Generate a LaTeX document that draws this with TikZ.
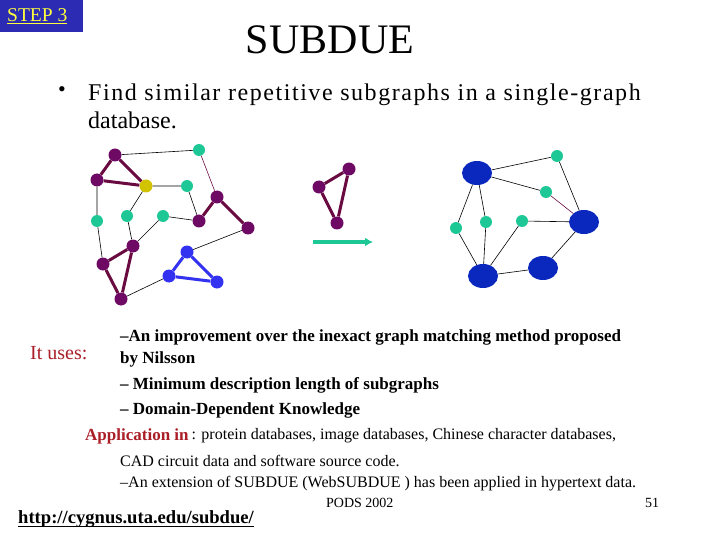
\documentclass[tikz,border=0pt]{standalone}
\usepackage{fontspec}
\setmainfont{Liberation Serif}
\usetikzlibrary{arrows.meta,shapes.geometric}
\definecolor{stepblue}{RGB}{43,43,180}
\definecolor{stepyellow}{RGB}{255,255,60}
\definecolor{labelred}{RGB}{170,30,40}
\definecolor{vpurple}{RGB}{110,10,100}
\definecolor{epurple}{RGB}{105,10,65}
\definecolor{vteal}{RGB}{30,200,150}
\definecolor{vyellow}{RGB}{210,195,0}
\definecolor{vblue}{RGB}{50,50,240}
\definecolor{vbig}{RGB}{10,40,190}

\begin{document}
\begin{tikzpicture}[
      x=1pt,y=-1pt,
      every node/.style={inner sep=0pt},
      pv/.style={circle,fill=vpurple,minimum size=13pt},
      tv/.style={circle,fill=vteal,minimum size=12pt},
      yv/.style={circle,fill=vyellow,minimum size=13pt},
      bv/.style={circle,fill=vblue,minimum size=13pt},
      bigv/.style={ellipse,fill=vbig,minimum width=30pt,minimum height=24pt},
      thin edge/.style={draw=black,line width=0.6pt},
      sub edge/.style={draw=epurple,line width=3pt},
      blue edge/.style={draw=vblue,line width=3pt},
      txt/.style={anchor=west,font=\fontsize{17}{20}\selectfont\bfseries},
      small txt/.style={anchor=west,font=\fontsize{16}{18}\selectfont}
    ]
      \useasboundingbox (0,0) rectangle (720,540);

      % header
      \fill[stepblue] (0,0) rectangle (83,32);
      \node[anchor=west,text=stepyellow,font=\fontsize{19.5}{21}\selectfont] (step) at (7,16) {\underline{STEP 3}};
      \node[font=\fontsize{42}{46}\selectfont] (title) at (330,40) {SUBDUE};
      \node[anchor=west,font=\fontsize{22}{26}\selectfont] (bullet) at (58,92) {\textbullet};
      \node[anchor=west,font=\fontsize{24}{28}\selectfont,align=left] (find) at (88,106)
        {{\addfontfeature{LetterSpace=6.5}Find similar repetitive subgraphs in a single-graph}\\database.};

      % input graph
      \node[pv] (p1) at (115,155) {};
      \node[pv] (p2) at (97,180) {};
      \node[yv] (y1) at (146,186) {};
      \node[tv] (g1) at (199,150) {};
      \node[tv] (g2) at (187,186) {};
      \node[pv] (p3) at (217,197) {};
      \node[pv] (p4) at (199,221) {};
      \node[pv] (p5) at (248,228) {};
      \node[tv] (g3) at (97,221) {};
      \node[tv] (g4) at (127,216) {};
      \node[tv] (g5) at (163,216) {};
      \node[pv] (p6) at (133,246) {};
      \node[pv] (p7) at (103,264) {};
      \node[pv] (p8) at (121,299) {};
      \node[bv] (b1) at (187,252) {};
      \node[bv] (b2) at (169,276) {};
      \node[bv] (b3) at (217,282) {};

      \path[thin edge] (p1) -- (g1) (p2) -- (g3) (y1) -- (g2) (y1) -- (g4)
        (g2) -- (p4) (g5) -- (p4) (p5) -- (b1) (g3) -- (p7) (g4) -- (p6)
        (g5) -- (p6) (p8) -- (b2);
      \path[draw=epurple,line width=0.6pt] (g1) -- (p3);
      \path[sub edge] (p1) -- (p2) -- (y1) -- (p1);
      \path[sub edge] (p4) -- (p3) -- (p5);
      \path[sub edge] (p6) -- (p7) -- (p8) -- (p6);
      \path[blue edge] (b1) -- (b2) -- (b3) -- (b1);

      % substructure
      \node[pv] (q1) at (349,169) {};
      \node[pv] (q2) at (319,187) {};
      \node[pv] (q3) at (337,223) {};
      \path[sub edge] (q1) -- (q2) -- (q3) -- (q1);

      \coordinate (a1) at (313,242);
      \coordinate (a2) at (373,242);
      \draw[vteal,line width=3.5pt,-{Latex[length=8pt,width=9pt]}] (a1) -- (a2);

      % compressed graph
      \node[bigv] (B1) at (477,173) {};
      \node[tv] (s1) at (557,156) {};
      \node[tv] (s2) at (546,192) {};
      \node[bigv] (B2) at (584,222) {};
      \node[tv] (s3) at (456,228) {};
      \node[tv] (s4) at (486,222) {};
      \node[tv] (s5) at (522,221) {};
      \node[bigv] (B3) at (483,276) {};
      \node[bigv] (B4) at (543,268) {};

      \path[thin edge] (B1) -- (s1) (s1) -- (B2) (B1) -- (s2) (B1) -- (s3)
        (B1) -- (s4) (s3) -- (B3) (s4) -- (B3) (s5) -- (B3) (s5) -- (B2)
        (B2) -- (B4) (B3) -- (B4);
      \path[draw=epurple,line width=0.6pt] (s2) -- (B2);

      % text
      \node[anchor=west,text=labelred,font=\fontsize{20}{22}\selectfont] (uses) at (30,353) {It uses:};
      \node[txt] (u1) at (120,337) {--An improvement over the inexact graph matching method proposed};
      \node[txt] (u2) at (120,359) {by Nilsson};
      \node[txt] (u3) at (120,385) {-- Minimum description length of subgraphs};
      \node[txt] (u4) at (120,410) {-- Domain-Dependent Knowledge};
      \node[txt,text=labelred] (app) at (85,436) {Application in};
      \node[small txt] (a1t) at (app.east) {\,: protein databases, image databases, Chinese character databases,};
      \node[small txt] (a2t) at (120,461) {CAD circuit data and software source code.};
      \node[small txt] (a3t) at (120,484) {--An extension of SUBDUE (WebSUBDUE ) has been applied in hypertext data.};
      \node[anchor=west,font=\fontsize{14}{16}\selectfont] (pods) at (326,503) {PODS 2002};
      \node[anchor=west,font=\fontsize{14}{16}\selectfont] (num) at (645,503) {51};
      \node[anchor=west,font=\fontsize{18.6}{20}\selectfont\bfseries] (url) at (18,519) {http://cygnus.uta.edu/subdue/};
      \draw[line width=1.8pt] ([yshift=-3pt]url.base west) -- ([yshift=-3pt]url.base east);
    \end{tikzpicture}
\end{document}
